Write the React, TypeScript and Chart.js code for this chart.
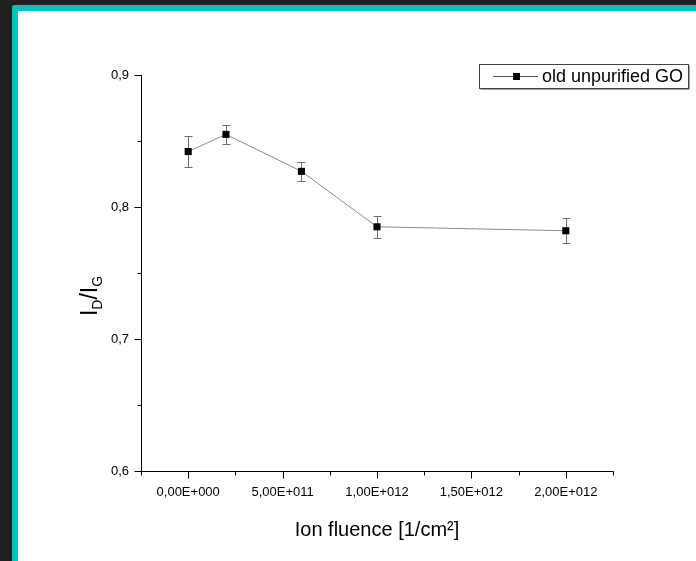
import React, { useEffect, useRef } from "react";
import { Chart, registerables } from "chart.js";

Chart.register(...registerables);

// ---- data ----
const fluence = [0, 2e11, 6e11, 1e12, 2e12];
const ratio = [0.842, 0.855, 0.827, 0.785, 0.782];
const ratioErr = [0.0115, 0.007, 0.0072, 0.0085, 0.0093];
const xTickValues = [0, 5e11, 1e12, 1.5e12, 2e12];
const yTickValues = [0.6, 0.7, 0.8, 0.9];
const seriesLabel = "old unpurified GO";
const xTitle = "Ion fluence [1/cm²]";
const yTitleParts = [
  { t: "I", sub: false },
  { t: "D", sub: true },
  { t: "/", sub: false },
  { t: "I", sub: false },
  { t: "G", sub: true },
];

const FONT = "'Liberation Sans', Arial, sans-serif";

function fmtSci(v: number): string {
  if (Math.abs(v) < 1) return "0,00E+000";
  const e = Math.floor(Math.log10(Math.abs(v)) + 1e-9);
  const m = v / Math.pow(10, e);
  const sign = e >= 0 ? "+" : "-";
  return `${m.toFixed(2).replace(".", ",")}E${sign}${String(Math.abs(e)).padStart(3, "0")}`;
}

const isMajorX = (v: number) => xTickValues.some((t) => Math.abs(t - v) < 1e3);
const isMajorY = (v: number) => yTickValues.some((t) => Math.abs(t - v) < 1e-6);

const errorBarPlugin = {
  id: "errorBars",
  beforeDatasetsDraw(chart: any) {
    const meta = chart.getDatasetMeta(0);
    const ys = chart.scales.y;
    const ctx = chart.ctx;
    ctx.save();
    ctx.strokeStyle = "#6e6e6e";
    ctx.lineWidth = 1;
    meta.data.forEach((pt: any, i: number) => {
      const x = Math.round(pt.x) + 0.5;
      const yTop = Math.round(ys.getPixelForValue(ratio[i] + ratioErr[i])) + 0.5;
      const yBot = Math.round(ys.getPixelForValue(ratio[i] - ratioErr[i])) + 0.5;
      ctx.beginPath();
      ctx.moveTo(x, yTop);
      ctx.lineTo(x, yBot);
      ctx.moveTo(x - 4, yTop);
      ctx.lineTo(x + 4, yTop);
      ctx.moveTo(x - 4, yBot);
      ctx.lineTo(x + 4, yBot);
      ctx.stroke();
    });
    ctx.restore();
  },
};

const axesPlugin = {
  id: "originAxes",
  afterDraw(chart: any) {
    const { ctx, chartArea, scales } = chart;
    const left = Math.round(chartArea.left) + 0.5;
    const bottom = Math.round(chartArea.bottom) + 0.5;
    ctx.save();
    ctx.strokeStyle = "#000";
    ctx.lineWidth = 1;
    ctx.beginPath();
    ctx.moveTo(left, Math.round(chartArea.top));
    ctx.lineTo(left, bottom);
    ctx.lineTo(Math.round(chartArea.right) + 0.5, bottom);
    ctx.stroke();
    ctx.beginPath();
    scales.x.ticks.forEach((t: any) => {
      const px = Math.round(scales.x.getPixelForValue(t.value)) + 0.5;
      const len = isMajorX(t.value) ? 7 : 4;
      ctx.moveTo(px, bottom);
      ctx.lineTo(px, bottom + len);
    });
    scales.y.ticks.forEach((t: any) => {
      const py = Math.round(scales.y.getPixelForValue(t.value)) + 0.5;
      const len = isMajorY(t.value) ? 7 : 4;
      ctx.moveTo(left, py);
      ctx.lineTo(left - len, py);
    });
    ctx.stroke();

    // y title with subscripts
    const big = 23;
    const small = 14;
    const parts = yTitleParts.map((p) => {
      ctx.font = `${p.sub ? small : big}px ${FONT}`;
      return { ...p, w: ctx.measureText(p.t).width };
    });
    const total = parts.reduce((s, p) => s + p.w, 0);
    ctx.translate(97, (chartArea.top + chartArea.bottom) / 2 + 23);
    ctx.rotate(-Math.PI / 2);
    ctx.fillStyle = "#000";
    ctx.textBaseline = "alphabetic";
    ctx.textAlign = "left";
    let x = -total / 2;
    parts.forEach((p) => {
      ctx.font = `${p.sub ? small : big}px ${FONT}`;
      ctx.fillText(p.t, x, p.sub ? 5 : 0);
      x += p.w;
    });
    ctx.restore();

    // legend
    ctx.save();
    const lx = 479.5, ly = 64.5, lw = 209, lh = 24;
    ctx.fillStyle = "#fff";
    ctx.fillRect(lx, ly, lw, lh);
    ctx.strokeStyle = "#a0a0a0";
    ctx.beginPath();
    ctx.moveTo(lx + lw + 1, ly + 1);
    ctx.lineTo(lx + lw + 1, ly + lh + 1);
    ctx.lineTo(lx + 1, ly + lh + 1);
    ctx.stroke();
    ctx.strokeStyle = "#444";
    ctx.strokeRect(lx, ly, lw, lh);
    ctx.strokeStyle = "#555";
    ctx.beginPath();
    ctx.moveTo(493, 76.5);
    ctx.lineTo(538, 76.5);
    ctx.stroke();
    ctx.fillStyle = "#000";
    ctx.fillRect(513, 73, 7, 7);
    ctx.font = `18px ${FONT}`;
    ctx.textBaseline = "middle";
    ctx.textAlign = "left";
    ctx.fillText(chart.data.datasets[0].label, 542, 77);
    ctx.restore();
  },
};

export default function App() {
  const ref = useRef<HTMLCanvasElement | null>(null);

  useEffect(() => {
    if (!ref.current) return;
    const chart = new Chart(ref.current, {
      type: "line",
      data: {
        datasets: [
          {
            label: seriesLabel,
            data: fluence.map((f, i) => ({ x: f, y: ratio[i] })),
            borderColor: "#8a8a8a",
            borderWidth: 1,
            pointStyle: "rect",
            pointRadius: 5,
            pointBackgroundColor: "#000",
            pointBorderColor: "#000",
            pointBorderWidth: 0,
            tension: 0,
            fill: false,
          },
        ],
      },
      options: {
        responsive: false,
        animation: false,
        devicePixelRatio: 1,
        layout: { padding: { top: 75, right: 83, left: 0, bottom: 0 } },
        plugins: {
          legend: { display: false },
          tooltip: { enabled: false },
        },
        scales: {
          x: {
            type: "linear",
            min: -2.5e11,
            max: 2.25e12,
            afterFit: (s: any) => {
              s.height = 90;
            },
            grid: { display: false, drawTicks: false },
            border: { display: false },
            ticks: {
              stepSize: 2.5e11,
              autoSkip: false,
              maxRotation: 0,
              padding: 14,
              color: "#000",
              font: { family: FONT, size: 13 },
              callback: (v: any) => (isMajorX(Number(v)) ? fmtSci(Number(v)) : ""),
            },
            title: {
              display: true,
              text: xTitle,
              color: "#000",
              font: { family: FONT, size: 20 },
              padding: { top: 0, bottom: 19 },
            },
          },
          y: {
            type: "linear",
            min: 0.6,
            max: 0.9,
            afterFit: (s: any) => {
              s.width = 141;
            },
            grid: { display: false, drawTicks: false },
            border: { display: false },
            ticks: {
              stepSize: 0.05,
              autoSkip: false,
              padding: 12,
              color: "#000",
              font: { family: FONT, size: 13 },
              callback: (v: any) =>
                isMajorY(Number(v)) ? Number(v).toFixed(1).replace(".", ",") : "",
            },
          },
        },
      },
      plugins: [errorBarPlugin, axesPlugin],
    });
    return () => chart.destroy();
  }, []);

  return (
    <div style={{ position: "fixed", inset: 0, background: "#202020" }}>
      <div
        style={{
          position: "absolute",
          left: 12,
          top: 5,
          right: 0,
          bottom: 0,
          background: "#fff",
          borderLeft: "6px solid #00c4b8",
          borderTop: "6px solid #00c4b8",
          borderTopLeftRadius: 3,
        }}
      />
      <canvas
        ref={ref}
        width={696}
        height={561}
        style={{ position: "absolute", left: 0, top: 0 }}
      />
    </div>
  );
}
